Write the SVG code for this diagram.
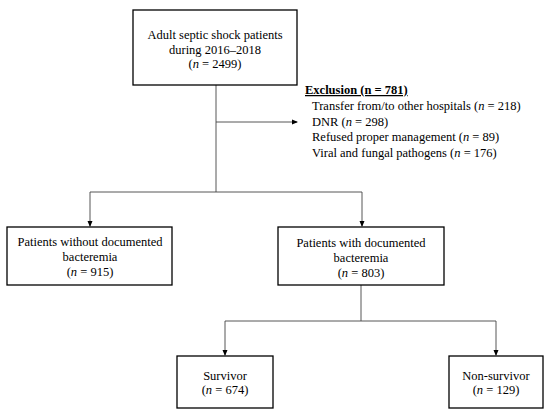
<svg xmlns="http://www.w3.org/2000/svg" width="550" height="415" viewBox="0 0 550 415">
<style>
.box{fill:#fff;stroke:#000;stroke-width:1.3}
.t{font-family:"Liberation Serif","Times New Roman",serif;font-size:12.5px;fill:#000}
.c{text-anchor:middle}
.ln{fill:none;stroke:#444;stroke-width:0.9}
</style>
<defs>
<marker id="ah" markerWidth="6" markerHeight="6" refX="5" refY="3" orient="auto" markerUnits="userSpaceOnUse">
<path d="M0,0.5 L6,3 L0,5.5 Z" fill="#000"/>
</marker>
</defs>
<rect width="550" height="415" fill="#fff"/>
<g id="connectors">
<path class="ln" d="M216,85 V192"/>
<path class="ln" d="M216,122 H297" marker-end="url(#ah)"/>
<path class="ln" d="M90,192 H362"/>
<path class="ln" d="M90,192 V226" marker-end="url(#ah)"/>
<path class="ln" d="M362,192 V226" marker-end="url(#ah)"/>
<path class="ln" d="M361,285 V321"/>
<path class="ln" d="M225,321 H496"/>
<path class="ln" d="M225,321 V355" marker-end="url(#ah)"/>
<path class="ln" d="M496,321 V355" marker-end="url(#ah)"/>
</g>
<g id="n-top">
<rect class="box" x="133" y="10" width="164" height="75"/>
<text class="t c" x="215" y="39">Adult septic shock patients</text>
<text class="t c" x="215" y="54">during 2016–2018</text>
<text class="t c" x="215" y="68">(<tspan font-style="italic">n</tspan> = 2499)</text>
</g>
<g id="n-exclusion">
<text class="t" x="305" y="94" font-weight="bold" text-decoration="underline">Exclusion (n = 781)</text>
<text class="t" x="312" y="110">Transfer from/to other hospitals (<tspan font-style="italic">n</tspan> = 218)</text>
<text class="t" x="312" y="126">DNR (<tspan font-style="italic">n</tspan> = 298)</text>
<text class="t" x="312" y="141">Refused proper management (<tspan font-style="italic">n</tspan> = 89)</text>
<text class="t" x="312" y="157">Viral and fungal pathogens (<tspan font-style="italic">n</tspan> = 176)</text>
</g>
<g id="n-without">
<rect class="box" x="7" y="227" width="165" height="58"/>
<text class="t c" x="90" y="246">Patients without documented</text>
<text class="t c" x="90" y="261">bacteremia</text>
<text class="t c" x="90" y="276">(<tspan font-style="italic">n</tspan> = 915)</text>
</g>
<g id="n-with">
<rect class="box" x="278" y="227" width="166" height="58"/>
<text class="t c" x="361" y="247">Patients with documented</text>
<text class="t c" x="361" y="262">bacteremia</text>
<text class="t c" x="361" y="277">(<tspan font-style="italic">n</tspan> = 803)</text>
</g>
<g id="n-survivor">
<rect class="box" x="177" y="356" width="96" height="52"/>
<text class="t c" x="225" y="380">Survivor</text>
<text class="t c" x="225" y="394">(<tspan font-style="italic">n</tspan> = 674)</text>
</g>
<g id="n-nonsurvivor">
<rect class="box" x="449" y="356" width="94" height="52"/>
<text class="t c" x="496" y="380">Non-survivor</text>
<text class="t c" x="496" y="394">(<tspan font-style="italic">n</tspan> = 129)</text>
</g>
</svg>
